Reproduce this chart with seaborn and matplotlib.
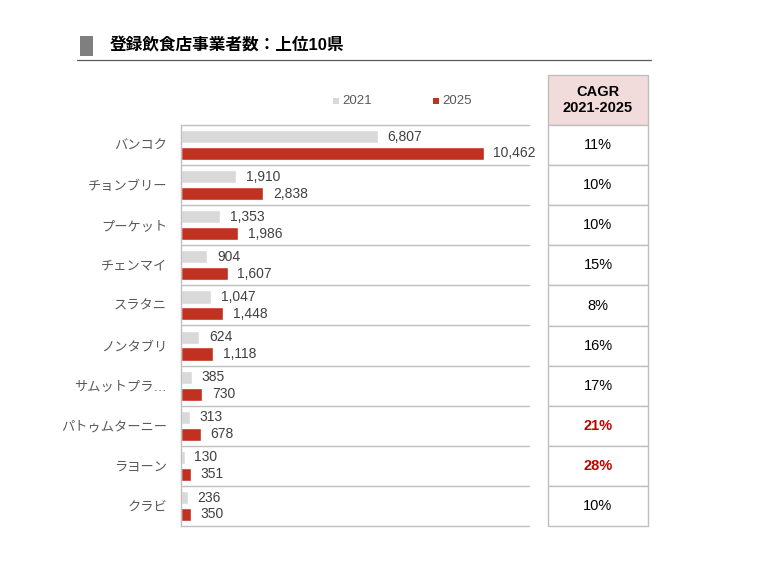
import numpy as np
import pandas as pd
import seaborn as sns
import matplotlib.pyplot as plt
from matplotlib.patches import Rectangle

# data
prefectures = ["バンコク", "チョンブリー", "プーケット", "チェンマイ", "スラタニ",
               "ノンタブリ", "サムットプラ…", "パトゥムターニー", "ラヨーン", "クラビ"]
v2021 = [6807, 1910, 1353, 904, 1047, 624, 385, 313, 130, 236]
v2025 = [10462, 2838, 1986, 1607, 1448, 1118, 730, 678, 351, 350]
cagr = ["11%", "10%", "10%", "15%", "8%", "16%", "17%", "21%", "28%", "10%"]
highlight = [False, False, False, False, False, False, False, True, True, False]
years = ["2021", "2025"]

c_grey = "#d9d9d9"
c_red = "#c0311f"
c_line = "#bfbfbf"
c_text = "#404040"

sns.set_theme(style="white")
plt.rcParams["font.family"] = ["Liberation Sans", "Noto Sans CJK JP", "DejaVu Sans"]

df = pd.DataFrame({
    "pref": prefectures * 2,
    "year": [years[0]] * len(prefectures) + [years[1]] * len(prefectures),
    "value": v2021 + v2025,
})

W, H = 770, 579
fig = plt.figure(figsize=(W / 100, H / 100), dpi=100)

def box(x0, y0, x1, y1):
    # pixel box (top-left origin) -> figure fraction rect
    return [x0 / W, 1 - y1 / H, (x1 - x0) / W, (y1 - y0) / H]

ax = fig.add_axes(box(181, 125, 529, 526))
sns.barplot(data=df, y="pref", x="value", hue="year", orient="h",
            palette=[c_grey, c_red], width=0.84, gap=0.22,
            order=prefectures, ax=ax, legend=False, saturation=1, errorbar=None)

ax.set_xlim(0, (529 - 181) / 0.02894)
ax.set_ylim(len(prefectures) - 0.5, -0.5)
ax.set_xlabel("")
ax.set_ylabel("")
ax.set_xticks([])
for s in ["top", "right", "bottom"]:
    ax.spines[s].set_visible(False)
ax.spines["left"].set_color(c_line)
ax.spines["left"].set_linewidth(1)
for i in range(len(prefectures) + 1):
    ax.axhline(i - 0.5, color=c_line, lw=1, zorder=0, clip_on=False)

ax.tick_params(axis="y", length=0, pad=10)
for lab in ax.get_yticklabels():
    lab.set_fontsize(9.5)
    lab.set_color("#595959")

for cont in ax.containers:
    ax.bar_label(cont, labels=[f"{int(v):,}" for v in cont.datavalues],
                 padding=7, fontsize=10, color=c_text)

# CAGR table
tax = fig.add_axes(box(548, 75, 648, 526))
tax.set_xlim(0, 1)
tax.set_ylim(len(prefectures) - 0.5, -1.75)
tax.axis("off")
tax.add_patch(Rectangle((0, -1.75), 1, 1.25, facecolor="#f2dcdb",
                        edgecolor=c_line, lw=1, clip_on=False))
tax.text(0.5, -1.125, "CAGR\n2021-2025", ha="center", va="center",
         fontsize=10.5, fontweight="bold", color="black", linespacing=1.15)
for i, (val, hl) in enumerate(zip(cagr, highlight)):
    tax.add_patch(Rectangle((0, i - 0.5), 1, 1, facecolor="white",
                            edgecolor=c_line, lw=1, clip_on=False))
    tax.text(0.5, i, val, ha="center", va="center", fontsize=10.5,
             color="#c00000" if hl else "black",
             fontweight="bold" if hl else "normal")

# title
fig.patches.append(Rectangle((80 / W, 1 - 56 / H), 13 / W, 20 / H,
                             transform=fig.transFigure, facecolor="#7f7f7f",
                             edgecolor="none"))
fig.text(110 / W, 1 - 45 / H, "登録飲食店事業者数：上位10県", ha="left", va="center",
         fontsize=12, fontweight="bold", color="black")
fig.add_artist(plt.Line2D([77 / W, 651 / W], [1 - 60 / H, 1 - 60 / H],
                          transform=fig.transFigure, color="#595959", lw=0.9))

# legend
for x, col, yr in [(333, c_grey, years[0]), (433, c_red, years[1])]:
    fig.patches.append(Rectangle((x / W, 1 - 104 / H), 6 / W, 6 / H,
                                 transform=fig.transFigure, facecolor=col,
                                 edgecolor="none"))
    fig.text((x + 9) / W, 1 - 101 / H, yr, ha="left", va="center",
             fontsize=9.5, color="#595959")

fig.savefig("out.png", dpi=100)
